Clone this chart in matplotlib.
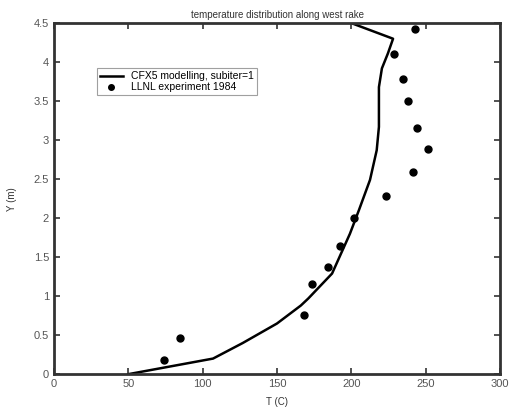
import matplotlib
matplotlib.use("Agg")
import matplotlib.pyplot as plt

# model curve
model_T = [50, 107, 127, 150, 166, 171, 187, 199, 205, 212.5, 217, 218.5, 218.5, 220.5, 224.5, 228, 200]
model_Y = [0, 0.2, 0.4, 0.65, 0.88, 0.97, 1.29, 1.8, 2.1, 2.49, 2.87, 3.17, 3.68, 3.92, 4.11, 4.3, 4.5]

# experiment points
exp_T = [74, 85, 168, 173.5, 184, 192, 202, 223, 241.5, 251.5, 244, 238, 235, 228.5, 242.5]
exp_Y = [0.18, 0.46, 0.76, 1.15, 1.37, 1.64, 2.0, 2.29, 2.59, 2.89, 3.16, 3.5, 3.79, 4.11, 4.42]

xticks = [0, 50, 100, 150, 200, 250, 300]
yticks = [0, 0.5, 1, 1.5, 2, 2.5, 3, 3.5, 4, 4.5]
yticklabels = ["0", "0.5", "1", "1.5", "2", "2.5", "3", "3.5", "4", "4.5"]

plt.rcParams['font.family'] = ['Liberation Sans', 'DejaVu Sans']
fig = plt.figure(figsize=(5.13, 4.13), dpi=100)
ax = fig.add_axes([0.105, 0.094, 0.870, 0.850])

ax.plot(model_T, model_Y, color='black', lw=1.8, label='CFX5 modelling, subiter=1')
ax.plot(exp_T, exp_Y, 'o', color='black', ms=5, label='LLNL experiment 1984')

ax.set_xlim(0, 300)
ax.set_ylim(0, 4.5)
ax.set_xticks(xticks)
ax.set_yticks(yticks)
ax.set_yticklabels(yticklabels)
ax.tick_params(direction='in', top=True, right=True, length=4, width=1.2,
               labelsize=8, colors='#333333', labelcolor='#555555')
for s in ax.spines.values():
    s.set_linewidth(2)
    s.set_color('#333333')

ax.set_title('temperature distribution along west rake', fontsize=7, color='#333333', pad=4)
ax.set_xlabel('T (C)', fontsize=7, color='#333333', labelpad=6)
ax.set_ylabel('Y (m)', fontsize=7, color='#333333', labelpad=12)

leg = ax.legend(loc='upper left', bbox_to_anchor=(0.096, 0.872), fontsize=7.5,
                frameon=True, fancybox=False, edgecolor='#888888', borderpad=0.3,
                labelspacing=0.1, handlelength=2.2, borderaxespad=0, markerscale=0.8)
leg.get_frame().set_linewidth(0.8)

fig.savefig('out.png', dpi=100)
